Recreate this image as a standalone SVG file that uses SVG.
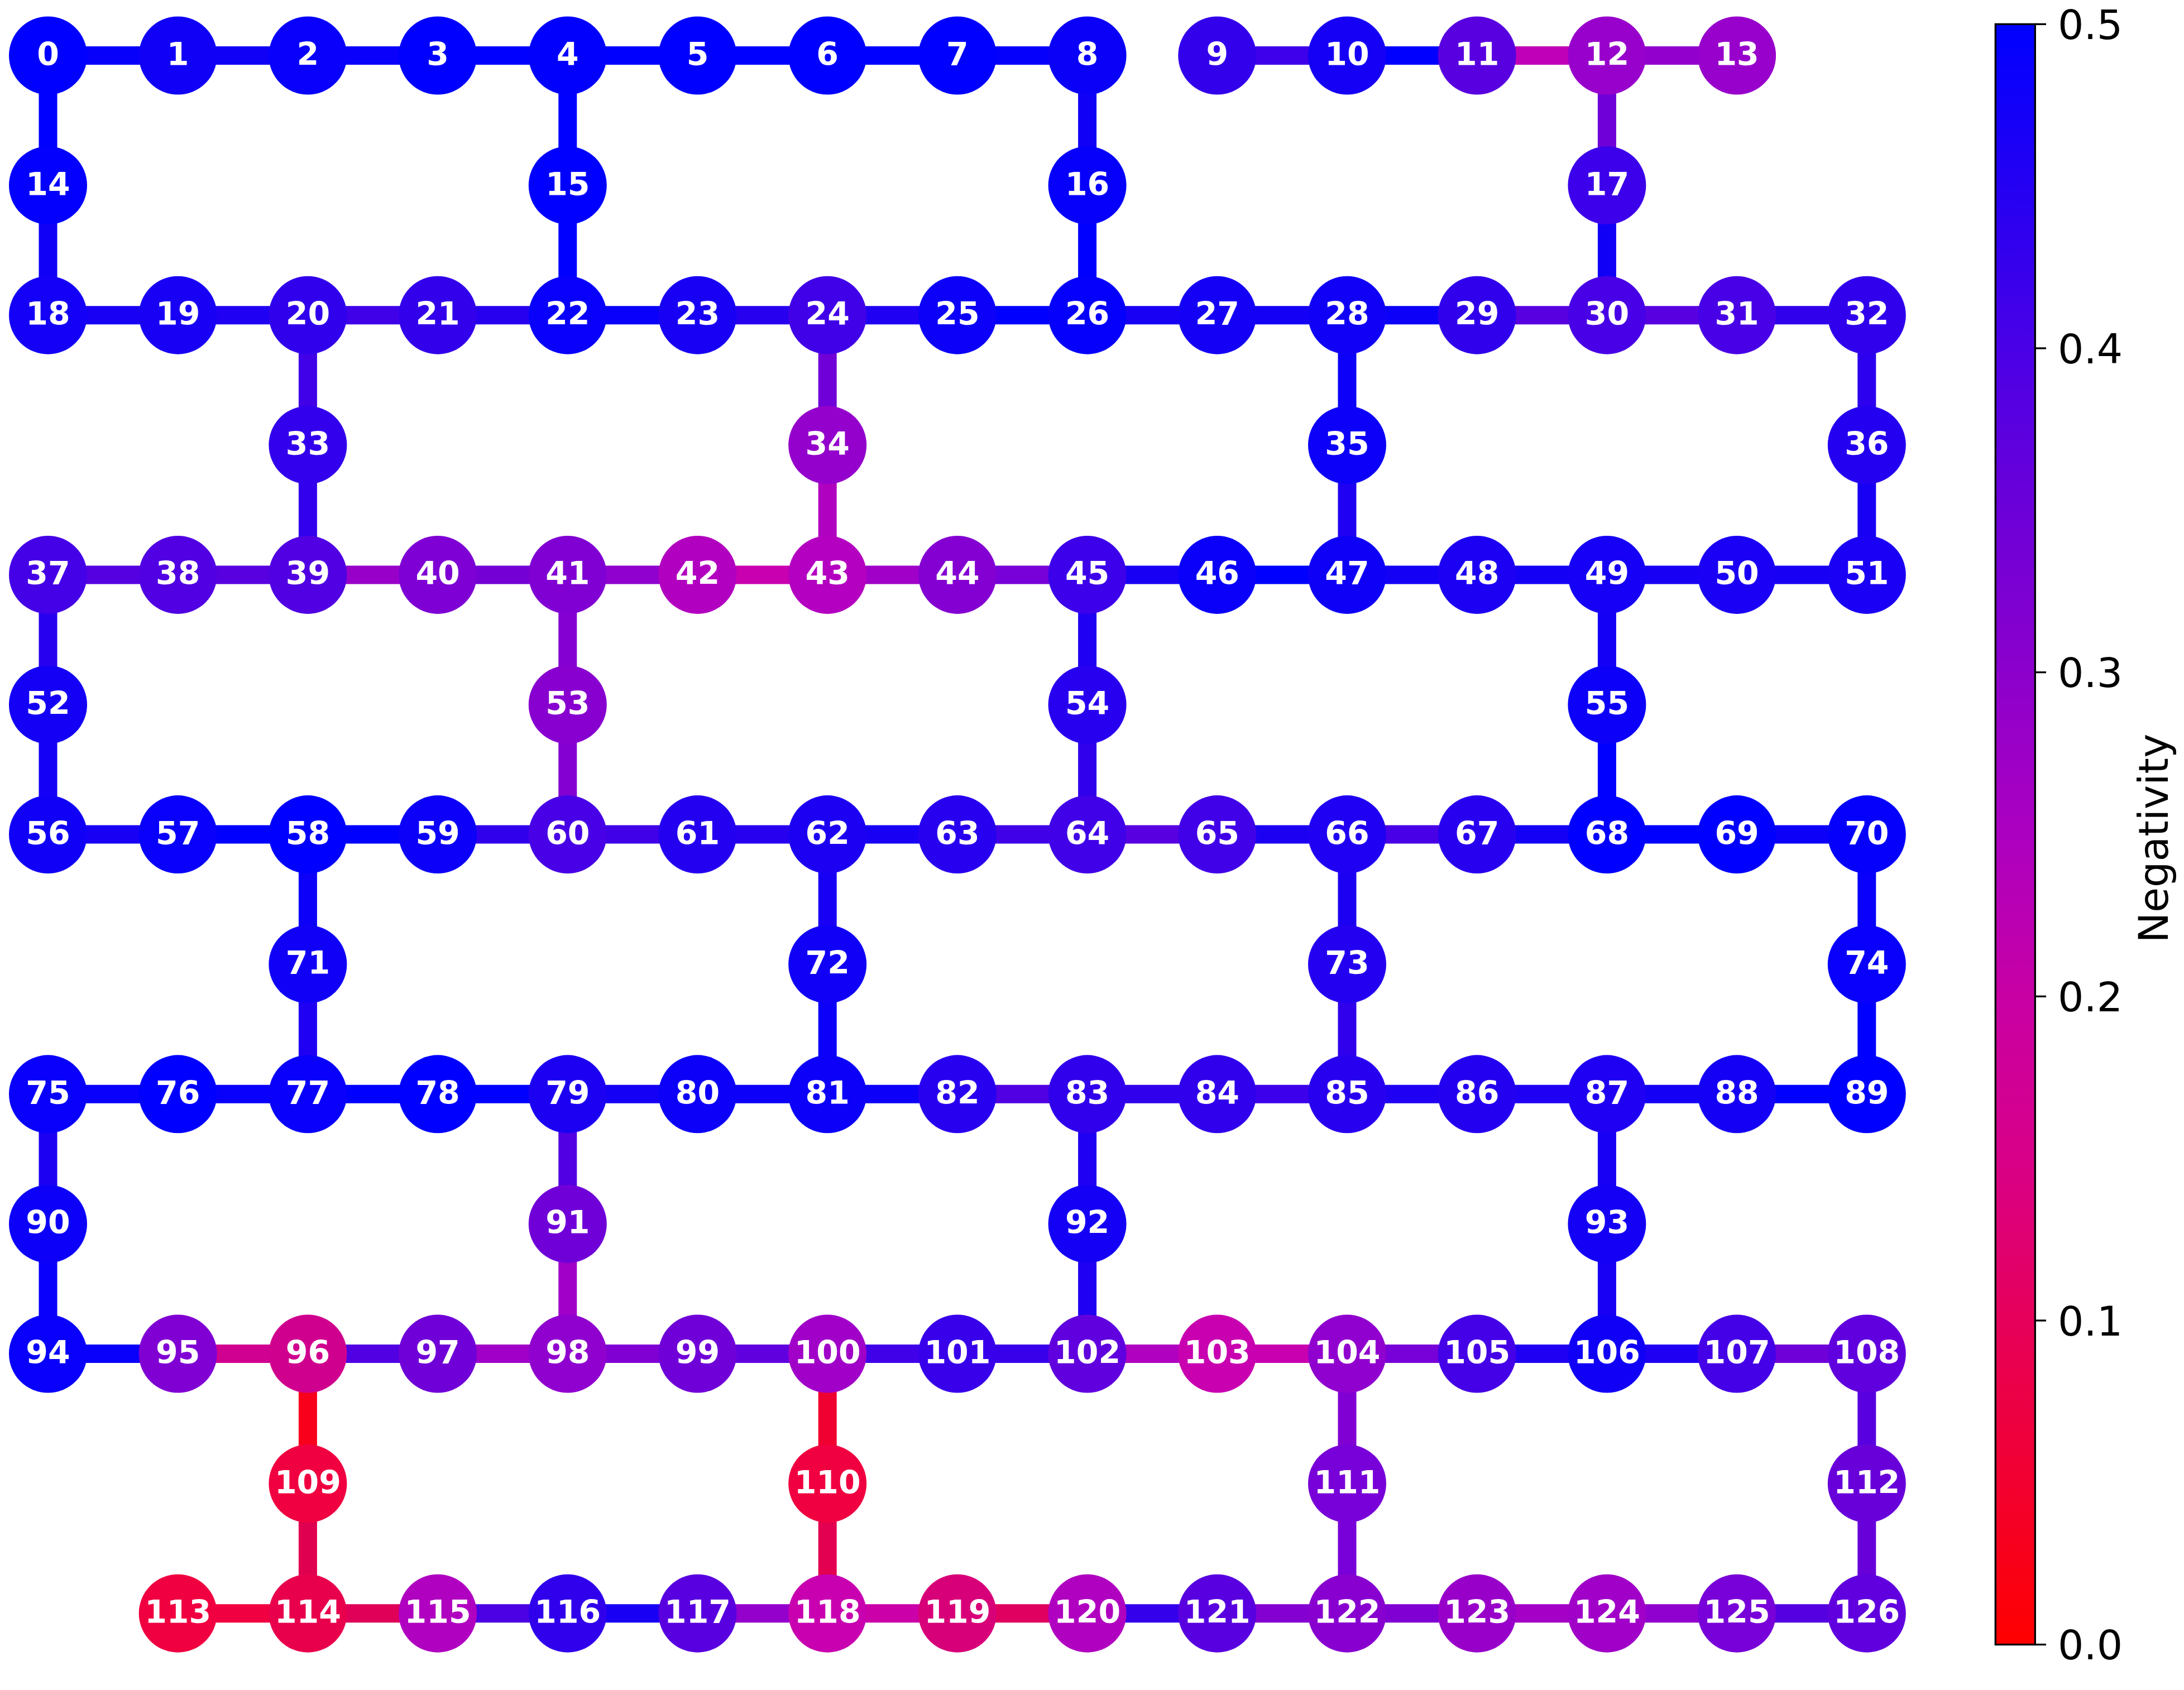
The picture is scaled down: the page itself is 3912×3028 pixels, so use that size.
<svg xmlns="http://www.w3.org/2000/svg" width="3912" height="3028" viewBox="0 0 3912 3028">
<defs>
<style>
.edges line{stroke-width:33;stroke-linecap:butt}
.node text{font-family:"DejaVu Sans","Liberation Sans",sans-serif;font-weight:bold;font-size:57px;fill:#ffffff;text-anchor:middle}
.tick{stroke:#000;stroke-width:3.3}
.tl{font-family:"DejaVu Sans","Liberation Sans",sans-serif;font-size:73px;fill:#000}
</style>
<linearGradient id="cmap" x1="0" y1="0" x2="0" y2="1">
<stop offset="0" stop-color="#0000ff"/>
<stop offset="0.1" stop-color="#2400f2"/>
<stop offset="0.2" stop-color="#4a00e6"/>
<stop offset="0.3" stop-color="#6c00d8"/>
<stop offset="0.4" stop-color="#8c00cc"/>
<stop offset="0.5" stop-color="#ac00c0"/>
<stop offset="0.6" stop-color="#c800a4"/>
<stop offset="0.7" stop-color="#d80088"/>
<stop offset="0.8" stop-color="#e6005a"/>
<stop offset="0.9" stop-color="#f20030"/>
<stop offset="1" stop-color="#ff0000"/>
</linearGradient>
</defs>
<rect width="3912" height="3028" fill="#ffffff"/>
<g id="connectors" class="edges">
<!-- row 0 -->
<line x1="86" y1="99.5" x2="318.7" y2="99.5" stroke="#0600fb"/>
<line x1="318.7" y1="99.5" x2="551.4" y2="99.5" stroke="#1000f6"/>
<line x1="551.4" y1="99.5" x2="784.1" y2="99.5" stroke="#0800fa"/>
<line x1="784.1" y1="99.5" x2="1016.8" y2="99.5" stroke="#0000ff"/>
<line x1="1016.8" y1="99.5" x2="1249.5" y2="99.5" stroke="#0000ff"/>
<line x1="1249.5" y1="99.5" x2="1482.2" y2="99.5" stroke="#0000ff"/>
<line x1="1482.2" y1="99.5" x2="1714.9" y2="99.5" stroke="#0000ff"/>
<line x1="1714.9" y1="99.5" x2="1947.6" y2="99.5" stroke="#0400fc"/>
<line x1="2180.3" y1="99.5" x2="2413" y2="99.5" stroke="#3e00ea"/>
<line x1="2413" y1="99.5" x2="2645.7" y2="99.5" stroke="#0000ff"/>
<line x1="2645.7" y1="99.5" x2="2878.4" y2="99.5" stroke="#c000b8"/>
<line x1="2878.4" y1="99.5" x2="3111.1" y2="99.5" stroke="#9200ce"/>
<!-- verticals r0-r2 -->
<line x1="86" y1="99.5" x2="86" y2="332.1" stroke="#0000ff"/>
<line x1="86" y1="332.1" x2="86" y2="564.7" stroke="#1000f6"/>
<line x1="1016.8" y1="99.5" x2="1016.8" y2="332.1" stroke="#0000ff"/>
<line x1="1016.8" y1="332.1" x2="1016.8" y2="564.7" stroke="#0000ff"/>
<line x1="1947.6" y1="99.5" x2="1947.6" y2="332.1" stroke="#1000f6"/>
<line x1="1947.6" y1="332.1" x2="1947.6" y2="564.7" stroke="#0000ff"/>
<line x1="2878.4" y1="99.5" x2="2878.4" y2="332.1" stroke="#7000d8"/>
<line x1="2878.4" y1="332.1" x2="2878.4" y2="564.7" stroke="#1000f6"/>
<!-- row 2 -->
<line x1="86" y1="564.7" x2="318.7" y2="564.7" stroke="#1800f4"/>
<line x1="318.7" y1="564.7" x2="551.4" y2="564.7" stroke="#2000f2"/>
<line x1="551.4" y1="564.7" x2="784.1" y2="564.7" stroke="#4000e8"/>
<line x1="784.1" y1="564.7" x2="1016.8" y2="564.7" stroke="#2800f0"/>
<line x1="1016.8" y1="564.7" x2="1249.5" y2="564.7" stroke="#0800fa"/>
<line x1="1249.5" y1="564.7" x2="1482.2" y2="564.7" stroke="#2800f0"/>
<line x1="1482.2" y1="564.7" x2="1714.9" y2="564.7" stroke="#2000f2"/>
<line x1="1714.9" y1="564.7" x2="1947.6" y2="564.7" stroke="#0000ff"/>
<line x1="1947.6" y1="564.7" x2="2180.3" y2="564.7" stroke="#1800f4"/>
<line x1="2180.3" y1="564.7" x2="2413" y2="564.7" stroke="#1400f5"/>
<line x1="2413" y1="564.7" x2="2645.7" y2="564.7" stroke="#0c00f8"/>
<line x1="2645.7" y1="564.7" x2="2878.4" y2="564.7" stroke="#5800e0"/>
<line x1="2878.4" y1="564.7" x2="3111.1" y2="564.7" stroke="#5800e0"/>
<line x1="3111.1" y1="564.7" x2="3343.8" y2="564.7" stroke="#3000ec"/>
<!-- verticals r2-r4 -->
<line x1="551.4" y1="564.7" x2="551.4" y2="797.3" stroke="#4000e8"/>
<line x1="551.4" y1="797.3" x2="551.4" y2="1029.9" stroke="#3200ec"/>
<line x1="1482.2" y1="564.7" x2="1482.2" y2="797.3" stroke="#7000d8"/>
<line x1="1482.2" y1="797.3" x2="1482.2" y2="1029.9" stroke="#b000c0"/>
<line x1="2413" y1="564.7" x2="2413" y2="797.3" stroke="#0c00f8"/>
<line x1="2413" y1="797.3" x2="2413" y2="1029.9" stroke="#2000f2"/>
<line x1="3343.8" y1="564.7" x2="3343.8" y2="797.3" stroke="#2c00ee"/>
<line x1="3343.8" y1="797.3" x2="3343.8" y2="1029.9" stroke="#1800f4"/>
<!-- row 4 -->
<line x1="86" y1="1029.9" x2="318.7" y2="1029.9" stroke="#5400e0"/>
<line x1="318.7" y1="1029.9" x2="551.4" y2="1029.9" stroke="#5800e0"/>
<line x1="551.4" y1="1029.9" x2="784.1" y2="1029.9" stroke="#9800ca"/>
<line x1="784.1" y1="1029.9" x2="1016.8" y2="1029.9" stroke="#7400d6"/>
<line x1="1016.8" y1="1029.9" x2="1249.5" y2="1029.9" stroke="#9000ce"/>
<line x1="1249.5" y1="1029.9" x2="1482.2" y2="1029.9" stroke="#c800b0"/>
<line x1="1482.2" y1="1029.9" x2="1714.9" y2="1029.9" stroke="#a000c8"/>
<line x1="1714.9" y1="1029.9" x2="1947.6" y2="1029.9" stroke="#7800d8"/>
<line x1="1947.6" y1="1029.9" x2="2180.3" y2="1029.9" stroke="#1800f4"/>
<line x1="2180.3" y1="1029.9" x2="2413" y2="1029.9" stroke="#0000ff"/>
<line x1="2413" y1="1029.9" x2="2645.7" y2="1029.9" stroke="#1400f5"/>
<line x1="2645.7" y1="1029.9" x2="2878.4" y2="1029.9" stroke="#1400f5"/>
<line x1="2878.4" y1="1029.9" x2="3111.1" y2="1029.9" stroke="#1800f4"/>
<line x1="3111.1" y1="1029.9" x2="3343.8" y2="1029.9" stroke="#1800f4"/>
<!-- verticals r4-r6 -->
<line x1="86" y1="1029.9" x2="86" y2="1262.5" stroke="#2800f0"/>
<line x1="86" y1="1262.5" x2="86" y2="1495.1" stroke="#1400f5"/>
<line x1="1016.8" y1="1029.9" x2="1016.8" y2="1262.5" stroke="#8400d2"/>
<line x1="1016.8" y1="1262.5" x2="1016.8" y2="1495.1" stroke="#8400d2"/>
<line x1="1947.6" y1="1029.9" x2="1947.6" y2="1262.5" stroke="#2000f2"/>
<line x1="1947.6" y1="1262.5" x2="1947.6" y2="1495.1" stroke="#3000ec"/>
<line x1="2878.4" y1="1029.9" x2="2878.4" y2="1262.5" stroke="#1400f5"/>
<line x1="2878.4" y1="1262.5" x2="2878.4" y2="1495.1" stroke="#0000ff"/>
<!-- row 6 -->
<line x1="86" y1="1495.1" x2="318.7" y2="1495.1" stroke="#1800f4"/>
<line x1="318.7" y1="1495.1" x2="551.4" y2="1495.1" stroke="#0000ff"/>
<line x1="551.4" y1="1495.1" x2="784.1" y2="1495.1" stroke="#0000ff"/>
<line x1="784.1" y1="1495.1" x2="1016.8" y2="1495.1" stroke="#3000ec"/>
<line x1="1016.8" y1="1495.1" x2="1249.5" y2="1495.1" stroke="#4000e8"/>
<line x1="1249.5" y1="1495.1" x2="1482.2" y2="1495.1" stroke="#2800f0"/>
<line x1="1482.2" y1="1495.1" x2="1714.9" y2="1495.1" stroke="#1800f4"/>
<line x1="1714.9" y1="1495.1" x2="1947.6" y2="1495.1" stroke="#4000e8"/>
<line x1="1947.6" y1="1495.1" x2="2180.3" y2="1495.1" stroke="#5800e0"/>
<line x1="2180.3" y1="1495.1" x2="2413" y2="1495.1" stroke="#1c00f2"/>
<line x1="2413" y1="1495.1" x2="2645.7" y2="1495.1" stroke="#4800e6"/>
<line x1="2645.7" y1="1495.1" x2="2878.4" y2="1495.1" stroke="#1400f5"/>
<line x1="2878.4" y1="1495.1" x2="3111.1" y2="1495.1" stroke="#0000ff"/>
<line x1="3111.1" y1="1495.1" x2="3343.8" y2="1495.1" stroke="#0c00f8"/>
<!-- verticals r6-r8 -->
<line x1="551.4" y1="1495.1" x2="551.4" y2="1727.7" stroke="#0c00f8"/>
<line x1="551.4" y1="1727.7" x2="551.4" y2="1960.3" stroke="#2000f2"/>
<line x1="1482.2" y1="1495.1" x2="1482.2" y2="1727.7" stroke="#1800f4"/>
<line x1="1482.2" y1="1727.7" x2="1482.2" y2="1960.3" stroke="#0c00f8"/>
<line x1="2413" y1="1495.1" x2="2413" y2="1727.7" stroke="#1c00f2"/>
<line x1="2413" y1="1727.7" x2="2413" y2="1960.3" stroke="#3000ec"/>
<line x1="3343.8" y1="1495.1" x2="3343.8" y2="1727.7" stroke="#0800fa"/>
<line x1="3343.8" y1="1727.7" x2="3343.8" y2="1960.3" stroke="#0000ff"/>
<!-- row 8 -->
<line x1="86" y1="1960.3" x2="318.7" y2="1960.3" stroke="#0800fa"/>
<line x1="318.7" y1="1960.3" x2="551.4" y2="1960.3" stroke="#0800fa"/>
<line x1="551.4" y1="1960.3" x2="784.1" y2="1960.3" stroke="#0000ff"/>
<line x1="784.1" y1="1960.3" x2="1016.8" y2="1960.3" stroke="#0000ff"/>
<line x1="1016.8" y1="1960.3" x2="1249.5" y2="1960.3" stroke="#1400f5"/>
<line x1="1249.5" y1="1960.3" x2="1482.2" y2="1960.3" stroke="#0c00f8"/>
<line x1="1482.2" y1="1960.3" x2="1714.9" y2="1960.3" stroke="#0c00f8"/>
<line x1="1714.9" y1="1960.3" x2="1947.6" y2="1960.3" stroke="#5000e2"/>
<line x1="1947.6" y1="1960.3" x2="2180.3" y2="1960.3" stroke="#3000ec"/>
<line x1="2180.3" y1="1960.3" x2="2413" y2="1960.3" stroke="#3c00ea"/>
<line x1="2413" y1="1960.3" x2="2645.7" y2="1960.3" stroke="#2000f2"/>
<line x1="2645.7" y1="1960.3" x2="2878.4" y2="1960.3" stroke="#2000f2"/>
<line x1="2878.4" y1="1960.3" x2="3111.1" y2="1960.3" stroke="#1400f5"/>
<line x1="3111.1" y1="1960.3" x2="3343.8" y2="1960.3" stroke="#0000ff"/>
<!-- verticals r8-r10 -->
<line x1="86" y1="1960.3" x2="86" y2="2192.9" stroke="#1c00f2"/>
<line x1="86" y1="2192.9" x2="86" y2="2425.5" stroke="#0800fa"/>
<line x1="1016.8" y1="1960.3" x2="1016.8" y2="2192.9" stroke="#5000e2"/>
<line x1="1016.8" y1="2192.9" x2="1016.8" y2="2425.5" stroke="#a000c8"/>
<line x1="1947.6" y1="1960.3" x2="1947.6" y2="2192.9" stroke="#2000f2"/>
<line x1="1947.6" y1="2192.9" x2="1947.6" y2="2425.5" stroke="#2000f2"/>
<line x1="2878.4" y1="1960.3" x2="2878.4" y2="2192.9" stroke="#1800f4"/>
<line x1="2878.4" y1="2192.9" x2="2878.4" y2="2425.5" stroke="#1800f4"/>
<!-- row 10 -->
<line x1="86" y1="2425.5" x2="318.7" y2="2425.5" stroke="#0800fa"/>
<line x1="318.7" y1="2425.5" x2="551.4" y2="2425.5" stroke="#d00090"/>
<line x1="551.4" y1="2425.5" x2="784.1" y2="2425.5" stroke="#5000e2"/>
<line x1="784.1" y1="2425.5" x2="1016.8" y2="2425.5" stroke="#a000c8"/>
<line x1="1016.8" y1="2425.5" x2="1249.5" y2="2425.5" stroke="#8000d4"/>
<line x1="1249.5" y1="2425.5" x2="1482.2" y2="2425.5" stroke="#6000de"/>
<line x1="1482.2" y1="2425.5" x2="1714.9" y2="2425.5" stroke="#4000e8"/>
<line x1="1714.9" y1="2425.5" x2="1947.6" y2="2425.5" stroke="#3800ea"/>
<line x1="1947.6" y1="2425.5" x2="2180.3" y2="2425.5" stroke="#b000c0"/>
<line x1="2180.3" y1="2425.5" x2="2413" y2="2425.5" stroke="#c800b0"/>
<line x1="2413" y1="2425.5" x2="2645.7" y2="2425.5" stroke="#7800d8"/>
<line x1="2645.7" y1="2425.5" x2="2878.4" y2="2425.5" stroke="#2000f2"/>
<line x1="2878.4" y1="2425.5" x2="3111.1" y2="2425.5" stroke="#2000f2"/>
<line x1="3111.1" y1="2425.5" x2="3343.8" y2="2425.5" stroke="#7000d8"/>
<!-- verticals r10-r12 -->
<line x1="551.4" y1="2425.5" x2="551.4" y2="2658.1" stroke="#f8001c"/>
<line x1="551.4" y1="2658.1" x2="551.4" y2="2890.7" stroke="#e00050"/>
<line x1="1482.2" y1="2425.5" x2="1482.2" y2="2658.1" stroke="#f00030"/>
<line x1="1482.2" y1="2658.1" x2="1482.2" y2="2890.7" stroke="#e40050"/>
<line x1="2413" y1="2425.5" x2="2413" y2="2658.1" stroke="#8000d4"/>
<line x1="2413" y1="2658.1" x2="2413" y2="2890.7" stroke="#7800d8"/>
<line x1="3343.8" y1="2425.5" x2="3343.8" y2="2658.1" stroke="#5800e0"/>
<line x1="3343.8" y1="2658.1" x2="3343.8" y2="2890.7" stroke="#6800da"/>
<!-- row 12 -->
<line x1="318.7" y1="2890.7" x2="551.4" y2="2890.7" stroke="#f00040"/>
<line x1="551.4" y1="2890.7" x2="784.1" y2="2890.7" stroke="#e00058"/>
<line x1="784.1" y1="2890.7" x2="1016.8" y2="2890.7" stroke="#4c00e4"/>
<line x1="1016.8" y1="2890.7" x2="1249.5" y2="2890.7" stroke="#1800f4"/>
<line x1="1249.5" y1="2890.7" x2="1482.2" y2="2890.7" stroke="#9400cc"/>
<line x1="1482.2" y1="2890.7" x2="1714.9" y2="2890.7" stroke="#cc00a8"/>
<line x1="1714.9" y1="2890.7" x2="1947.6" y2="2890.7" stroke="#e00060"/>
<line x1="1947.6" y1="2890.7" x2="2180.3" y2="2890.7" stroke="#3400ec"/>
<line x1="2180.3" y1="2890.7" x2="2413" y2="2890.7" stroke="#8400d2"/>
<line x1="2413" y1="2890.7" x2="2645.7" y2="2890.7" stroke="#8000d4"/>
<line x1="2645.7" y1="2890.7" x2="2878.4" y2="2890.7" stroke="#a400c6"/>
<line x1="2878.4" y1="2890.7" x2="3111.1" y2="2890.7" stroke="#9000ce"/>
<line x1="3111.1" y1="2890.7" x2="3343.8" y2="2890.7" stroke="#5400e0"/>
</g>
<g id="nodes">
<g id="n0" class="node"><circle cx="86" cy="99.5" r="70" fill="#0000ff"/><text x="86" y="117">0</text></g>
<g id="n1" class="node"><circle cx="318.7" cy="99.5" r="70" fill="#1000f6"/><text x="318.7" y="117">1</text></g>
<g id="n2" class="node"><circle cx="551.4" cy="99.5" r="70" fill="#0800fa"/><text x="551.4" y="117">2</text></g>
<g id="n3" class="node"><circle cx="784.1" cy="99.5" r="70" fill="#0000ff"/><text x="784.1" y="117">3</text></g>
<g id="n4" class="node"><circle cx="1016.8" cy="99.5" r="70" fill="#0200fd"/><text x="1016.8" y="117">4</text></g>
<g id="n5" class="node"><circle cx="1249.5" cy="99.5" r="70" fill="#0000ff"/><text x="1249.5" y="117">5</text></g>
<g id="n6" class="node"><circle cx="1482.2" cy="99.5" r="70" fill="#0000ff"/><text x="1482.2" y="117">6</text></g>
<g id="n7" class="node"><circle cx="1714.9" cy="99.5" r="70" fill="#0000ff"/><text x="1714.9" y="117">7</text></g>
<g id="n8" class="node"><circle cx="1947.6" cy="99.5" r="70" fill="#0a00f8"/><text x="1947.6" y="117">8</text></g>
<g id="n9" class="node"><circle cx="2180.3" cy="99.5" r="70" fill="#3300ec"/><text x="2180.3" y="117">9</text></g>
<g id="n10" class="node"><circle cx="2413" cy="99.5" r="70" fill="#1500f5"/><text x="2413" y="117">10</text></g>
<g id="n11" class="node"><circle cx="2645.7" cy="99.5" r="70" fill="#5800e0"/><text x="2645.7" y="117">11</text></g>
<g id="n12" class="node"><circle cx="2878.4" cy="99.5" r="70" fill="#9800cc"/><text x="2878.4" y="117">12</text></g>
<g id="n13" class="node"><circle cx="3111.1" cy="99.5" r="70" fill="#9800cc"/><text x="3111.1" y="117">13</text></g>
<g id="n14" class="node"><circle cx="86" cy="332.1" r="70" fill="#0300fd"/><text x="86" y="349.6">14</text></g>
<g id="n15" class="node"><circle cx="1016.8" cy="332.1" r="70" fill="#0000ff"/><text x="1016.8" y="349.6">15</text></g>
<g id="n16" class="node"><circle cx="1947.6" cy="332.1" r="70" fill="#0600fb"/><text x="1947.6" y="349.6">16</text></g>
<g id="n17" class="node"><circle cx="2878.4" cy="332.1" r="70" fill="#3c00ea"/><text x="2878.4" y="349.6">17</text></g>
<g id="n18" class="node"><circle cx="86" cy="564.7" r="70" fill="#1400f6"/><text x="86" y="582.2">18</text></g>
<g id="n19" class="node"><circle cx="318.7" cy="564.7" r="70" fill="#1800f5"/><text x="318.7" y="582.2">19</text></g>
<g id="n20" class="node"><circle cx="551.4" cy="564.7" r="70" fill="#3000ec"/><text x="551.4" y="582.2">20</text></g>
<g id="n21" class="node"><circle cx="784.1" cy="564.7" r="70" fill="#3200eb"/><text x="784.1" y="582.2">21</text></g>
<g id="n22" class="node"><circle cx="1016.8" cy="564.7" r="70" fill="#0800fa"/><text x="1016.8" y="582.2">22</text></g>
<g id="n23" class="node"><circle cx="1249.5" cy="564.7" r="70" fill="#1800f4"/><text x="1249.5" y="582.2">23</text></g>
<g id="n24" class="node"><circle cx="1482.2" cy="564.7" r="70" fill="#4000e8"/><text x="1482.2" y="582.2">24</text></g>
<g id="n25" class="node"><circle cx="1714.9" cy="564.7" r="70" fill="#0c00f8"/><text x="1714.9" y="582.2">25</text></g>
<g id="n26" class="node"><circle cx="1947.6" cy="564.7" r="70" fill="#0500fb"/><text x="1947.6" y="582.2">26</text></g>
<g id="n27" class="node"><circle cx="2180.3" cy="564.7" r="70" fill="#1400f5"/><text x="2180.3" y="582.2">27</text></g>
<g id="n28" class="node"><circle cx="2413" cy="564.7" r="70" fill="#1000f6"/><text x="2413" y="582.2">28</text></g>
<g id="n29" class="node"><circle cx="2645.7" cy="564.7" r="70" fill="#3000ec"/><text x="2645.7" y="582.2">29</text></g>
<g id="n30" class="node"><circle cx="2878.4" cy="564.7" r="70" fill="#4800e6"/><text x="2878.4" y="582.2">30</text></g>
<g id="n31" class="node"><circle cx="3111.1" cy="564.7" r="70" fill="#4800e6"/><text x="3111.1" y="582.2">31</text></g>
<g id="n32" class="node"><circle cx="3343.8" cy="564.7" r="70" fill="#3000ed"/><text x="3343.8" y="582.2">32</text></g>
<g id="n33" class="node"><circle cx="551.4" cy="797.3" r="70" fill="#3200ec"/><text x="551.4" y="814.8">33</text></g>
<g id="n34" class="node"><circle cx="1482.2" cy="797.3" r="70" fill="#9400cc"/><text x="1482.2" y="814.8">34</text></g>
<g id="n35" class="node"><circle cx="2413" cy="797.3" r="70" fill="#0c00f8"/><text x="2413" y="814.8">35</text></g>
<g id="n36" class="node"><circle cx="3343.8" cy="797.3" r="70" fill="#2400f0"/><text x="3343.8" y="814.8">36</text></g>
<g id="n37" class="node"><circle cx="86" cy="1029.9" r="70" fill="#4400e7"/><text x="86" y="1047.4">37</text></g>
<g id="n38" class="node"><circle cx="318.7" cy="1029.9" r="70" fill="#5000e2"/><text x="318.7" y="1047.4">38</text></g>
<g id="n39" class="node"><circle cx="551.4" cy="1029.9" r="70" fill="#5000e2"/><text x="551.4" y="1047.4">39</text></g>
<g id="n40" class="node"><circle cx="784.1" cy="1029.9" r="70" fill="#7e00d4"/><text x="784.1" y="1047.4">40</text></g>
<g id="n41" class="node"><circle cx="1016.8" cy="1029.9" r="70" fill="#8000d3"/><text x="1016.8" y="1047.4">41</text></g>
<g id="n42" class="node"><circle cx="1249.5" cy="1029.9" r="70" fill="#b200c0"/><text x="1249.5" y="1047.4">42</text></g>
<g id="n43" class="node"><circle cx="1482.2" cy="1029.9" r="70" fill="#b400c0"/><text x="1482.2" y="1047.4">43</text></g>
<g id="n44" class="node"><circle cx="1714.9" cy="1029.9" r="70" fill="#8400d2"/><text x="1714.9" y="1047.4">44</text></g>
<g id="n45" class="node"><circle cx="1947.6" cy="1029.9" r="70" fill="#3c00ea"/><text x="1947.6" y="1047.4">45</text></g>
<g id="n46" class="node"><circle cx="2180.3" cy="1029.9" r="70" fill="#0a00f9"/><text x="2180.3" y="1047.4">46</text></g>
<g id="n47" class="node"><circle cx="2413" cy="1029.9" r="70" fill="#0e00f7"/><text x="2413" y="1047.4">47</text></g>
<g id="n48" class="node"><circle cx="2645.7" cy="1029.9" r="70" fill="#1c00f3"/><text x="2645.7" y="1047.4">48</text></g>
<g id="n49" class="node"><circle cx="2878.4" cy="1029.9" r="70" fill="#1600f5"/><text x="2878.4" y="1047.4">49</text></g>
<g id="n50" class="node"><circle cx="3111.1" cy="1029.9" r="70" fill="#1a00f4"/><text x="3111.1" y="1047.4">50</text></g>
<g id="n51" class="node"><circle cx="3343.8" cy="1029.9" r="70" fill="#1a00f4"/><text x="3343.8" y="1047.4">51</text></g>
<g id="n52" class="node"><circle cx="86" cy="1262.5" r="70" fill="#1400f5"/><text x="86" y="1280">52</text></g>
<g id="n53" class="node"><circle cx="1016.8" cy="1262.5" r="70" fill="#8800d0"/><text x="1016.8" y="1280">53</text></g>
<g id="n54" class="node"><circle cx="1947.6" cy="1262.5" r="70" fill="#2800f0"/><text x="1947.6" y="1280">54</text></g>
<g id="n55" class="node"><circle cx="2878.4" cy="1262.5" r="70" fill="#0c00f8"/><text x="2878.4" y="1280">55</text></g>
<g id="n56" class="node"><circle cx="86" cy="1495.1" r="70" fill="#1000f6"/><text x="86" y="1512.6">56</text></g>
<g id="n57" class="node"><circle cx="318.7" cy="1495.1" r="70" fill="#0800fa"/><text x="318.7" y="1512.6">57</text></g>
<g id="n58" class="node"><circle cx="551.4" cy="1495.1" r="70" fill="#0000ff"/><text x="551.4" y="1512.6">58</text></g>
<g id="n59" class="node"><circle cx="784.1" cy="1495.1" r="70" fill="#0c00f8"/><text x="784.1" y="1512.6">59</text></g>
<g id="n60" class="node"><circle cx="1016.8" cy="1495.1" r="70" fill="#4800e6"/><text x="1016.8" y="1512.6">60</text></g>
<g id="n61" class="node"><circle cx="1249.5" cy="1495.1" r="70" fill="#2400f0"/><text x="1249.5" y="1512.6">61</text></g>
<g id="n62" class="node"><circle cx="1482.2" cy="1495.1" r="70" fill="#1c00f2"/><text x="1482.2" y="1512.6">62</text></g>
<g id="n63" class="node"><circle cx="1714.9" cy="1495.1" r="70" fill="#2800f0"/><text x="1714.9" y="1512.6">63</text></g>
<g id="n64" class="node"><circle cx="1947.6" cy="1495.1" r="70" fill="#4000e8"/><text x="1947.6" y="1512.6">64</text></g>
<g id="n65" class="node"><circle cx="2180.3" cy="1495.1" r="70" fill="#4000e8"/><text x="2180.3" y="1512.6">65</text></g>
<g id="n66" class="node"><circle cx="2413" cy="1495.1" r="70" fill="#2000f2"/><text x="2413" y="1512.6">66</text></g>
<g id="n67" class="node"><circle cx="2645.7" cy="1495.1" r="70" fill="#2800f0"/><text x="2645.7" y="1512.6">67</text></g>
<g id="n68" class="node"><circle cx="2878.4" cy="1495.1" r="70" fill="#0000ff"/><text x="2878.4" y="1512.6">68</text></g>
<g id="n69" class="node"><circle cx="3111.1" cy="1495.1" r="70" fill="#0000ff"/><text x="3111.1" y="1512.6">69</text></g>
<g id="n70" class="node"><circle cx="3343.8" cy="1495.1" r="70" fill="#0400fc"/><text x="3343.8" y="1512.6">70</text></g>
<g id="n71" class="node"><circle cx="551.4" cy="1727.7" r="70" fill="#1000f6"/><text x="551.4" y="1745.2">71</text></g>
<g id="n72" class="node"><circle cx="1482.2" cy="1727.7" r="70" fill="#1000f6"/><text x="1482.2" y="1745.2">72</text></g>
<g id="n73" class="node"><circle cx="2413" cy="1727.7" r="70" fill="#2400f0"/><text x="2413" y="1745.2">73</text></g>
<g id="n74" class="node"><circle cx="3343.8" cy="1727.7" r="70" fill="#0800fa"/><text x="3343.8" y="1745.2">74</text></g>
<g id="n75" class="node"><circle cx="86" cy="1960.3" r="70" fill="#0800fa"/><text x="86" y="1977.8">75</text></g>
<g id="n76" class="node"><circle cx="318.7" cy="1960.3" r="70" fill="#0000ff"/><text x="318.7" y="1977.8">76</text></g>
<g id="n77" class="node"><circle cx="551.4" cy="1960.3" r="70" fill="#0800fa"/><text x="551.4" y="1977.8">77</text></g>
<g id="n78" class="node"><circle cx="784.1" cy="1960.3" r="70" fill="#0000ff"/><text x="784.1" y="1977.8">78</text></g>
<g id="n79" class="node"><circle cx="1016.8" cy="1960.3" r="70" fill="#1c00f2"/><text x="1016.8" y="1977.8">79</text></g>
<g id="n80" class="node"><circle cx="1249.5" cy="1960.3" r="70" fill="#0c00f8"/><text x="1249.5" y="1977.8">80</text></g>
<g id="n81" class="node"><circle cx="1482.2" cy="1960.3" r="70" fill="#0c00f8"/><text x="1482.2" y="1977.8">81</text></g>
<g id="n82" class="node"><circle cx="1714.9" cy="1960.3" r="70" fill="#2800f0"/><text x="1714.9" y="1977.8">82</text></g>
<g id="n83" class="node"><circle cx="1947.6" cy="1960.3" r="70" fill="#3000ec"/><text x="1947.6" y="1977.8">83</text></g>
<g id="n84" class="node"><circle cx="2180.3" cy="1960.3" r="70" fill="#3000ec"/><text x="2180.3" y="1977.8">84</text></g>
<g id="n85" class="node"><circle cx="2413" cy="1960.3" r="70" fill="#2800f0"/><text x="2413" y="1977.8">85</text></g>
<g id="n86" class="node"><circle cx="2645.7" cy="1960.3" r="70" fill="#2400f0"/><text x="2645.7" y="1977.8">86</text></g>
<g id="n87" class="node"><circle cx="2878.4" cy="1960.3" r="70" fill="#2000f2"/><text x="2878.4" y="1977.8">87</text></g>
<g id="n88" class="node"><circle cx="3111.1" cy="1960.3" r="70" fill="#1400f5"/><text x="3111.1" y="1977.8">88</text></g>
<g id="n89" class="node"><circle cx="3343.8" cy="1960.3" r="70" fill="#0000ff"/><text x="3343.8" y="1977.8">89</text></g>
<g id="n90" class="node"><circle cx="86" cy="2192.9" r="70" fill="#0c00f8"/><text x="86" y="2210.4">90</text></g>
<g id="n91" class="node"><circle cx="1016.8" cy="2192.9" r="70" fill="#7000d8"/><text x="1016.8" y="2210.4">91</text></g>
<g id="n92" class="node"><circle cx="1947.6" cy="2192.9" r="70" fill="#1400f5"/><text x="1947.6" y="2210.4">92</text></g>
<g id="n93" class="node"><circle cx="2878.4" cy="2192.9" r="70" fill="#1400f5"/><text x="2878.4" y="2210.4">93</text></g>
<g id="n94" class="node"><circle cx="86" cy="2425.5" r="70" fill="#0800fa"/><text x="86" y="2443">94</text></g>
<g id="n95" class="node"><circle cx="318.7" cy="2425.5" r="70" fill="#8000d4"/><text x="318.7" y="2443">95</text></g>
<g id="n96" class="node"><circle cx="551.4" cy="2425.5" r="70" fill="#d0008e"/><text x="551.4" y="2443">96</text></g>
<g id="n97" class="node"><circle cx="784.1" cy="2425.5" r="70" fill="#7000d8"/><text x="784.1" y="2443">97</text></g>
<g id="n98" class="node"><circle cx="1016.8" cy="2425.5" r="70" fill="#9000ce"/><text x="1016.8" y="2443">98</text></g>
<g id="n99" class="node"><circle cx="1249.5" cy="2425.5" r="70" fill="#7000d8"/><text x="1249.5" y="2443">99</text></g>
<g id="n100" class="node"><circle cx="1482.2" cy="2425.5" r="70" fill="#a000c8"/><text x="1482.2" y="2443">100</text></g>
<g id="n101" class="node"><circle cx="1714.9" cy="2425.5" r="70" fill="#3800ea"/><text x="1714.9" y="2443">101</text></g>
<g id="n102" class="node"><circle cx="1947.6" cy="2425.5" r="70" fill="#6000de"/><text x="1947.6" y="2443">102</text></g>
<g id="n103" class="node"><circle cx="2180.3" cy="2425.5" r="70" fill="#c800b0"/><text x="2180.3" y="2443">103</text></g>
<g id="n104" class="node"><circle cx="2413" cy="2425.5" r="70" fill="#9000ce"/><text x="2413" y="2443">104</text></g>
<g id="n105" class="node"><circle cx="2645.7" cy="2425.5" r="70" fill="#4400e6"/><text x="2645.7" y="2443">105</text></g>
<g id="n106" class="node"><circle cx="2878.4" cy="2425.5" r="70" fill="#1000f6"/><text x="2878.4" y="2443">106</text></g>
<g id="n107" class="node"><circle cx="3111.1" cy="2425.5" r="70" fill="#4400e6"/><text x="3111.1" y="2443">107</text></g>
<g id="n108" class="node"><circle cx="3343.8" cy="2425.5" r="70" fill="#6000de"/><text x="3343.8" y="2443">108</text></g>
<g id="n109" class="node"><circle cx="551.4" cy="2658.1" r="70" fill="#f00040"/><text x="551.4" y="2675.6">109</text></g>
<g id="n110" class="node"><circle cx="1482.2" cy="2658.1" r="70" fill="#f00040"/><text x="1482.2" y="2675.6">110</text></g>
<g id="n111" class="node"><circle cx="2413" cy="2658.1" r="70" fill="#7800d8"/><text x="2413" y="2675.6">111</text></g>
<g id="n112" class="node"><circle cx="3343.8" cy="2658.1" r="70" fill="#6800da"/><text x="3343.8" y="2675.6">112</text></g>
<g id="n113" class="node"><circle cx="318.7" cy="2890.7" r="70" fill="#f00040"/><text x="318.7" y="2908.2">113</text></g>
<g id="n114" class="node"><circle cx="551.4" cy="2890.7" r="70" fill="#e8004c"/><text x="551.4" y="2908.2">114</text></g>
<g id="n115" class="node"><circle cx="784.1" cy="2890.7" r="70" fill="#b000c0"/><text x="784.1" y="2908.2">115</text></g>
<g id="n116" class="node"><circle cx="1016.8" cy="2890.7" r="70" fill="#3000ec"/><text x="1016.8" y="2908.2">116</text></g>
<g id="n117" class="node"><circle cx="1249.5" cy="2890.7" r="70" fill="#5800e0"/><text x="1249.5" y="2908.2">117</text></g>
<g id="n118" class="node"><circle cx="1482.2" cy="2890.7" r="70" fill="#c800b0"/><text x="1482.2" y="2908.2">118</text></g>
<g id="n119" class="node"><circle cx="1714.9" cy="2890.7" r="70" fill="#d80078"/><text x="1714.9" y="2908.2">119</text></g>
<g id="n120" class="node"><circle cx="1947.6" cy="2890.7" r="70" fill="#b000c0"/><text x="1947.6" y="2908.2">120</text></g>
<g id="n121" class="node"><circle cx="2180.3" cy="2890.7" r="70" fill="#5800e0"/><text x="2180.3" y="2908.2">121</text></g>
<g id="n122" class="node"><circle cx="2413" cy="2890.7" r="70" fill="#8800d0"/><text x="2413" y="2908.2">122</text></g>
<g id="n123" class="node"><circle cx="2645.7" cy="2890.7" r="70" fill="#9800ca"/><text x="2645.7" y="2908.2">123</text></g>
<g id="n124" class="node"><circle cx="2878.4" cy="2890.7" r="70" fill="#a000c8"/><text x="2878.4" y="2908.2">124</text></g>
<g id="n125" class="node"><circle cx="3111.1" cy="2890.7" r="70" fill="#7800d8"/><text x="3111.1" y="2908.2">125</text></g>
<g id="n126" class="node"><circle cx="3343.8" cy="2890.7" r="70" fill="#6000de"/><text x="3343.8" y="2908.2">126</text></g>
</g>
<g id="colorbar">
<rect x="3574.3" y="43.3" width="71" height="2903.3" fill="url(#cmap)" stroke="#000" stroke-width="3.3"/>
<line class="tick" x1="3645.3" y1="43.3" x2="3665" y2="43.3"/>
<line class="tick" x1="3645.3" y1="624" x2="3665" y2="624"/>
<line class="tick" x1="3645.3" y1="1204.6" x2="3665" y2="1204.6"/>
<line class="tick" x1="3645.3" y1="1785.3" x2="3665" y2="1785.3"/>
<line class="tick" x1="3645.3" y1="2366" x2="3665" y2="2366"/>
<line class="tick" x1="3645.3" y1="2946.6" x2="3665" y2="2946.6"/>
<text class="tl" x="3686" y="70">0.5</text>
<text class="tl" x="3686" y="650.7">0.4</text>
<text class="tl" x="3686" y="1231.3">0.3</text>
<text class="tl" x="3686" y="1812">0.2</text>
<text class="tl" x="3686" y="2392.7">0.1</text>
<text class="tl" x="3686" y="2973.3">0.0</text>
<text class="tl" transform="translate(3883,1502) rotate(-90)" text-anchor="middle">Negativity</text>
</g>
</svg>
